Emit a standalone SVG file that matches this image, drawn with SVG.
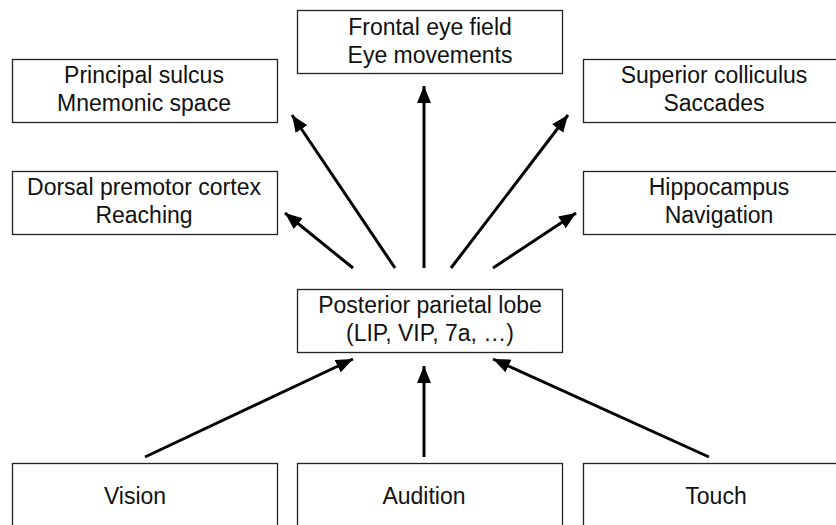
<svg xmlns="http://www.w3.org/2000/svg" width="836" height="525" viewBox="0 0 836 525">
<style>
.box{fill:#fff;stroke:#222;stroke-width:1.3}
text{font-family:"Liberation Sans",Arial,sans-serif;font-size:23px;fill:#111;text-anchor:middle}
.c line{stroke:#000;stroke-width:3;marker-end:url(#ah)}
</style>
<defs>
<marker id="ah" markerUnits="userSpaceOnUse" markerWidth="19" markerHeight="16" refX="17" refY="7" orient="auto">
<path d="M0,0 L17,7 L0,14 z" fill="#000"/>
</marker>
</defs>
<rect width="836" height="525" fill="#fff"/>
<g id="frontal"><rect class="box" x="297.5" y="10.5" width="265" height="63"/><text x="430" y="35">Frontal eye field</text><text x="430" y="63">Eye movements</text></g>
<g id="principal"><rect class="box" x="12.5" y="59.5" width="265" height="63"/><text x="144" y="83">Principal sulcus</text><text x="144" y="111">Mnemonic space</text></g>
<g id="superior"><rect class="box" x="583.5" y="59.5" width="265" height="63"/><text x="714" y="83">Superior colliculus</text><text x="714" y="111">Saccades</text></g>
<g id="dorsal"><rect class="box" x="12.5" y="171.5" width="265" height="63"/><text x="144" y="195">Dorsal premotor cortex</text><text x="144" y="223">Reaching</text></g>
<g id="hippocampus"><rect class="box" x="583.5" y="171.5" width="265" height="63"/><text x="719" y="195">Hippocampus</text><text x="719" y="223">Navigation</text></g>
<g id="parietal"><rect class="box" x="297.5" y="289.5" width="265" height="63"/><text x="430" y="313">Posterior parietal lobe</text><text x="430" y="341">(LIP, VIP, 7a, …)</text></g>
<g id="vision"><rect class="box" x="12.5" y="463.5" width="265" height="63"/><text x="135" y="504">Vision</text></g>
<g id="audition"><rect class="box" x="297.5" y="463.5" width="265" height="63"/><text x="424" y="504">Audition</text></g>
<g id="touch"><rect class="box" x="583.5" y="463.5" width="265" height="63"/><text x="716" y="504">Touch</text></g>
<g id="connectors" class="c">
<line x1="353" y1="268" x2="285" y2="213"/>
<line x1="395" y1="268" x2="292" y2="115"/>
<line x1="424" y1="268" x2="424" y2="86"/>
<line x1="451" y1="268" x2="568" y2="115"/>
<line x1="493" y1="268" x2="576" y2="213"/>
<line x1="145" y1="457" x2="353" y2="359"/>
<line x1="424" y1="457" x2="424" y2="366"/>
<line x1="709" y1="457" x2="493" y2="359"/>
</g>
</svg>
